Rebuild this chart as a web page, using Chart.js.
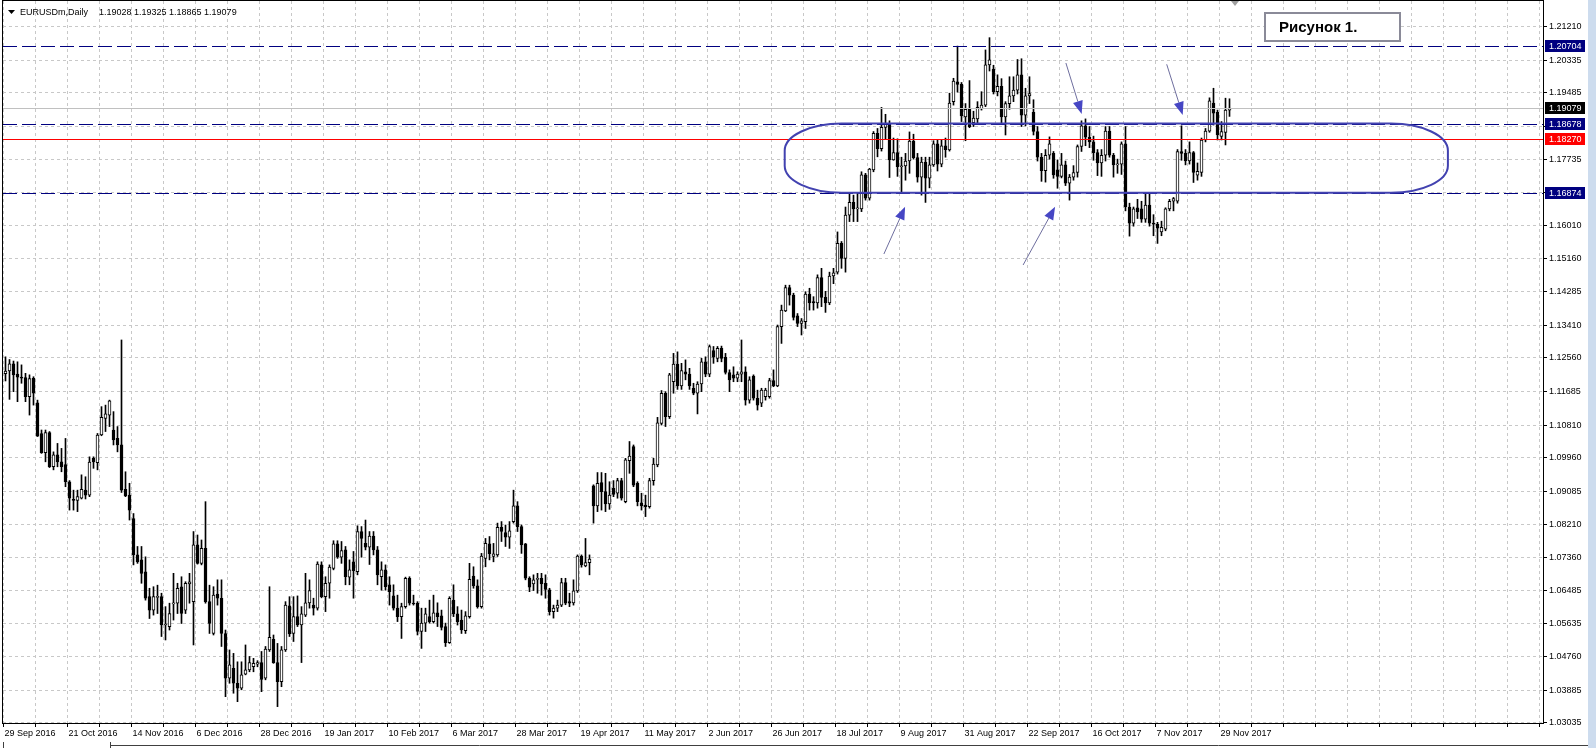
<!DOCTYPE html>
<html>
<head>
<meta charset="utf-8">
<title>EURUSDm, Daily</title>
<script src="https://cdn.jsdelivr.net/npm/chart.js@4.4.1/dist/chart.umd.min.js"></script>
<style>
  html, body { margin: 0; padding: 0; background: #ffffff; }
  canvas { display: block; }
</style>
</head>
<body>
<canvas id="chart" width="1596" height="748"></canvas>
<script>
// EURUSDm daily candles, one entry per trading day from 29 Sep 2016 to 1 Dec 2017
const dateLabels = ['29 Sep 2016', '21 Oct 2016', '14 Nov 2016', '6 Dec 2016', '28 Dec 2016',
  '19 Jan 2017', '10 Feb 2017', '6 Mar 2017', '28 Mar 2017', '19 Apr 2017', '11 May 2017',
  '2 Jun 2017', '26 Jun 2017', '18 Jul 2017', '9 Aug 2017', '31 Aug 2017', '22 Sep 2017',
  '16 Oct 2017', '7 Nov 2017', '29 Nov 2017'];

const priceTicks = [1.21210, 1.20335, 1.19485, 1.18610, 1.17735, 1.16885, 1.16010, 1.15160,
  1.14285, 1.13410, 1.12560, 1.11685, 1.10810, 1.09960, 1.09085, 1.08210, 1.07360, 1.06485,
  1.05635, 1.04760, 1.03885, 1.03035];

const opens = [
  1.1215,1.1222,1.1241,1.1214,1.1206,1.1205,1.1155,1.1203,1.1139,1.1059,
  1.1009,1.1061,1.0972,1.1003,1.0985,1.0978,1.0933,1.0887,1.0884,1.0890,
  1.0911,1.0898,1.0994,1.0983,1.1055,1.1098,1.1107,1.1068,1.1046,1.1029,
  1.0913,1.0898,1.0837,1.0742,1.0729,1.0698,1.0633,1.0598,1.0631,1.0633,
  1.0559,1.0555,1.0614,1.0616,1.0659,1.0598,1.0666,1.0620,1.0768,1.0720,
  1.0759,1.0620,1.0537,1.0640,1.0629,1.0537,1.0420,1.0446,1.0407,1.0394,
  1.0431,1.0442,1.0450,1.0457,1.0461,1.0420,1.0494,1.0522,1.0461,1.0411,
  1.0494,1.0609,1.0537,1.0581,1.0559,1.0585,1.0617,1.0611,1.0603,1.0716,
  1.0633,1.0668,1.0707,1.0771,1.0736,1.0755,1.0684,1.0724,1.0698,1.0803,
  1.0772,1.0762,1.0791,1.0755,1.0685,1.0703,1.0664,1.0635,1.0603,1.0581,
  1.0607,1.0681,1.0616,1.0616,1.0542,1.0564,1.0581,1.0568,1.0591,1.0583,
  1.0555,1.0513,1.0624,1.0588,1.0572,1.0544,1.0581,1.0687,1.0661,1.0607,
  1.0733,1.0771,1.0738,1.0742,1.0814,1.0800,1.0788,1.0829,1.0870,1.0816,
  1.0771,1.0681,1.0666,1.0678,1.0681,1.0668,1.0651,1.0594,1.0603,1.0611,
  1.0670,1.0620,1.0617,1.0648,1.0739,1.0713,1.0722,1.0922,1.0870,1.0931,
  1.0907,1.0875,1.0916,1.0903,1.0936,1.0881,1.0988,1.1025,1.0929,1.0878,
  1.0872,1.0868,1.0936,1.0977,1.1085,1.1164,1.1103,1.1194,1.1240,1.1183,
  1.1220,1.1214,1.1177,1.1164,1.1188,1.1246,1.1214,1.1275,1.1255,1.1281,
  1.1258,1.1218,1.1212,1.1203,1.1214,1.1220,1.1146,1.1209,1.1151,1.1138,
  1.1155,1.1155,1.1197,1.1183,1.1338,1.1379,1.1440,1.1420,1.1366,1.1346,
  1.1351,1.1423,1.1403,1.1400,1.1466,1.1414,1.1400,1.1470,1.1480,1.1555,
  1.1516,1.1629,1.1662,1.1645,1.1645,1.1734,1.1673,1.1747,1.1842,1.1802,
  1.1858,1.1868,1.1773,1.1792,1.1755,1.1757,1.1770,1.1822,1.1779,1.1728,
  1.1767,1.1725,1.1760,1.1815,1.1762,1.1810,1.1799,1.1925,1.1977,1.1970,
  1.1885,1.1905,1.1870,1.1880,1.1906,1.1916,1.2021,1.2010,1.1951,1.1965,
  1.1885,1.1920,1.1940,1.1955,1.1995,1.1890,1.1940,1.1897,1.1847,1.1780,
  1.1745,1.1785,1.1790,1.1747,1.1730,1.1760,1.1712,1.1728,1.1740,1.1808,
  1.1862,1.1832,1.1820,1.1792,1.1765,1.1785,1.1848,1.1785,1.1760,1.1762,
  1.1815,1.1650,1.1608,1.1648,1.1645,1.1618,1.1655,1.1608,1.1605,1.1585,
  1.1592,1.1645,1.1665,1.1665,1.1795,1.1790,1.1770,1.1792,1.1733,1.1740,
  1.1825,1.1848,1.1921,1.1897,1.1834,1.1845,1.19028
];

const highs = [
  1.1259,1.1252,1.1248,1.1246,1.1238,1.1216,1.1212,1.1207,1.1146,1.1068,
  1.1068,1.1064,1.1011,1.1033,1.1020,1.1046,1.0936,1.0911,1.0911,1.0951,
  1.0946,1.0998,1.0998,1.1059,1.1129,1.1133,1.1146,1.1116,1.1077,1.1303,
  1.0959,1.0929,1.0850,1.0764,1.0764,1.0737,1.0655,1.0659,1.0663,1.0642,
  1.0607,1.0616,1.0694,1.0668,1.0685,1.0672,1.0694,1.0803,1.0794,1.0781,
  1.0881,1.0663,1.0659,1.0677,1.0677,1.0546,1.0494,1.0485,1.0463,1.0463,
  1.0507,1.0477,1.0472,1.0466,1.0490,1.0503,1.0659,1.0533,1.0511,1.0503,
  1.0620,1.0633,1.0633,1.0635,1.0607,1.0694,1.0677,1.0629,1.0724,1.0724,
  1.0685,1.0716,1.0779,1.0779,1.0777,1.0764,1.0729,1.0751,1.0818,1.0816,
  1.0833,1.0803,1.0803,1.0764,1.0724,1.0716,1.0685,1.0664,1.0637,1.0616,
  1.0684,1.0685,1.0637,1.0620,1.0603,1.0603,1.0624,1.0637,1.0617,1.0598,
  1.0564,1.0633,1.0664,1.0607,1.0598,1.0594,1.0720,1.0711,1.0677,1.0746,
  1.0785,1.0790,1.0772,1.0825,1.0829,1.0820,1.0829,1.0911,1.0881,1.0820,
  1.0772,1.0685,1.0690,1.0694,1.0694,1.0690,1.0655,1.0611,1.0624,1.0681,
  1.0681,1.0642,1.0677,1.0742,1.0742,1.0785,1.0742,1.0925,1.0957,1.0957,
  1.0955,1.0933,1.0936,1.0942,1.0942,1.0994,1.1038,1.1029,1.0933,1.0903,
  1.0898,1.0942,1.0994,1.1101,1.1171,1.1168,1.1216,1.1268,1.1272,1.1242,
  1.1251,1.1229,1.1190,1.1194,1.1255,1.1259,1.1290,1.1286,1.1286,1.1287,
  1.1268,1.1225,1.1233,1.1220,1.1303,1.1233,1.1207,1.1212,1.1172,1.1177,
  1.1177,1.1203,1.1225,1.1342,1.1394,1.1446,1.1446,1.1425,1.1372,1.1359,
  1.1429,1.1438,1.1416,1.1473,1.1490,1.1430,1.1480,1.1490,1.1585,1.1560,
  1.1650,1.1686,1.1681,1.1686,1.1742,1.1738,1.1751,1.1847,1.1855,1.1910,
  1.1892,1.1875,1.1830,1.1828,1.1780,1.1790,1.1846,1.1840,1.1790,1.1780,
  1.1780,1.1780,1.1823,1.1824,1.1826,1.1830,1.1947,1.1986,1.2070,1.1975,
  1.1920,1.1980,1.1900,1.1925,1.1951,1.2060,1.2092,1.2020,1.1995,1.1985,
  1.1925,1.1990,1.1990,1.2035,1.2037,1.1960,1.1990,1.1930,1.1860,1.1790,
  1.1800,1.1833,1.1795,1.1773,1.1790,1.1770,1.1735,1.1758,1.1812,1.1875,
  1.1880,1.1860,1.1835,1.1800,1.1800,1.1860,1.1860,1.1790,1.1775,1.1820,
  1.1860,1.1660,1.1650,1.1670,1.1665,1.1686,1.1688,1.1630,1.1610,1.1613,
  1.1648,1.1670,1.1675,1.1800,1.1862,1.1800,1.1820,1.1795,1.1765,1.1830,
  1.1855,1.1935,1.1960,1.1903,1.1873,1.1934,1.19325
];

const lows = [
  1.1196,1.1148,1.1168,1.1142,1.1190,1.1142,1.1107,1.1133,1.1051,1.1007,
  1.0985,1.0970,1.0964,1.0972,1.0959,1.0920,1.0859,1.0859,1.0855,1.0888,
  1.0888,1.0894,1.0968,1.0964,1.1053,1.1064,1.1077,1.1029,1.1011,1.0905,
  1.0894,1.0833,1.0716,1.0720,1.0668,1.0624,1.0576,1.0585,1.0589,1.0529,
  1.0520,1.0546,1.0572,1.0589,1.0563,1.0589,1.0616,1.0507,1.0718,1.0716,
  1.0616,1.0537,1.0533,1.0611,1.0503,1.0372,1.0407,1.0381,1.0359,1.0390,
  1.0429,1.0437,1.0437,1.0450,1.0385,1.0416,1.0490,1.0459,1.0346,1.0398,
  1.0490,1.0529,1.0516,1.0555,1.0461,1.0581,1.0603,1.0585,1.0598,1.0630,
  1.0594,1.0629,1.0703,1.0733,1.0720,1.0664,1.0664,1.0629,1.0690,1.0736,
  1.0755,1.0717,1.0742,1.0664,1.0650,1.0650,1.0611,1.0598,1.0568,1.0524,
  1.0603,1.0611,1.0611,1.0533,1.0498,1.0542,1.0564,1.0564,1.0555,1.0546,
  1.0503,1.0511,1.0581,1.0559,1.0537,1.0537,1.0577,1.0655,1.0603,1.0603,
  1.0711,1.0729,1.0724,1.0738,1.0777,1.0764,1.0759,1.0825,1.0803,1.0746,
  1.0677,1.0646,1.0649,1.0642,1.0637,1.0629,1.0585,1.0577,1.0594,1.0607,
  1.0612,1.0607,1.0611,1.0644,1.0710,1.0711,1.0690,1.0825,1.0855,1.0859,
  1.0855,1.0861,1.0894,1.0890,1.0885,1.0878,1.0955,1.0920,1.0870,1.0859,
  1.0842,1.0864,1.0924,1.0972,1.1081,1.1077,1.1098,1.1164,1.1174,1.1174,
  1.1199,1.1174,1.1160,1.1110,1.1168,1.1207,1.1207,1.1242,1.1246,1.1246,
  1.1214,1.1168,1.1194,1.1194,1.1194,1.1133,1.1138,1.1146,1.1120,1.1129,
  1.1146,1.1151,1.1181,1.1181,1.1294,1.1377,1.1394,1.1355,1.1338,1.1316,
  1.1333,1.1381,1.1381,1.1386,1.1390,1.1375,1.1395,1.1450,1.1475,1.1490,
  1.1480,1.1612,1.1612,1.1612,1.1638,1.1668,1.1668,1.1742,1.1781,1.1796,
  1.1827,1.1727,1.1772,1.1730,1.1688,1.1720,1.1738,1.1775,1.1715,1.1681,
  1.1662,1.1700,1.1756,1.1744,1.1755,1.1780,1.1796,1.1916,1.1950,1.1873,
  1.1823,1.1857,1.1860,1.1865,1.1903,1.1912,1.2005,1.1945,1.1940,1.1870,
  1.1838,1.1905,1.1925,1.1945,1.1860,1.1862,1.1920,1.1838,1.1770,1.1717,
  1.1715,1.1775,1.1725,1.1699,1.1726,1.1706,1.1668,1.1720,1.1728,1.1795,
  1.1810,1.1805,1.1772,1.1732,1.1730,1.1770,1.1780,1.1728,1.1738,1.1735,
  1.1640,1.1574,1.1600,1.1620,1.1610,1.1610,1.1600,1.1575,1.1555,1.1575,
  1.1588,1.1640,1.1640,1.1660,1.1772,1.1760,1.1762,1.1714,1.1720,1.1730,
  1.1820,1.1845,1.1864,1.1825,1.1825,1.1812,1.18865
];

const closes = [
  1.1222,1.1241,1.1212,1.1206,1.1203,1.1155,1.1202,1.1164,1.1052,1.1009,
  1.1061,1.0972,1.1003,1.0985,1.0972,1.0933,1.0890,1.0884,1.0894,1.0913,
  1.0898,1.0984,1.0985,1.1055,1.1101,1.1110,1.1144,1.1042,1.1029,1.0911,
  1.0896,1.0859,1.0742,1.0724,1.0694,1.0629,1.0598,1.0633,1.0633,1.0559,
  1.0561,1.0589,1.0617,1.0655,1.0589,1.0668,1.0672,1.0768,1.0720,1.0759,
  1.0620,1.0563,1.0637,1.0629,1.0537,1.0420,1.0455,1.0407,1.0394,1.0429,
  1.0442,1.0461,1.0459,1.0461,1.0417,1.0496,1.0527,1.0461,1.0411,1.0494,
  1.0611,1.0536,1.0581,1.0559,1.0588,1.0617,1.0649,1.0603,1.0718,1.0633,
  1.0668,1.0710,1.0771,1.0736,1.0753,1.0685,1.0703,1.0701,1.0803,1.0785,
  1.0762,1.0791,1.0755,1.0690,1.0703,1.0659,1.0646,1.0603,1.0581,1.0607,
  1.0681,1.0616,1.0614,1.0542,1.0564,1.0588,1.0568,1.0591,1.0581,1.0553,
  1.0513,1.0629,1.0588,1.0568,1.0546,1.0583,1.0678,1.0661,1.0607,1.0739,
  1.0772,1.0745,1.0745,1.0814,1.0803,1.0788,1.0805,1.0870,1.0816,1.0768,
  1.0681,1.0658,1.0677,1.0681,1.0666,1.0652,1.0594,1.0603,1.0611,1.0670,
  1.0616,1.0616,1.0648,1.0739,1.0716,1.0722,1.0731,1.0870,1.0929,1.0907,
  1.0875,1.0898,1.0900,1.0936,1.0890,1.0990,1.1000,1.0924,1.0881,1.0870,
  1.0868,1.0936,1.0979,1.1087,1.1164,1.1103,1.1212,1.1240,1.1183,1.1223,
  1.1214,1.1183,1.1164,1.1188,1.1246,1.1214,1.1286,1.1258,1.1281,1.1255,
  1.1218,1.1199,1.1203,1.1214,1.1220,1.1146,1.1199,1.1151,1.1133,1.1172,
  1.1172,1.1197,1.1183,1.1338,1.1381,1.1440,1.1420,1.1362,1.1346,1.1353,
  1.1423,1.1400,1.1400,1.1466,1.1414,1.1400,1.1470,1.1478,1.1555,1.1516,
  1.1629,1.1662,1.1645,1.1648,1.1734,1.1673,1.1749,1.1842,1.1802,1.1858,
  1.1868,1.1773,1.1792,1.1755,1.1757,1.1770,1.1822,1.1779,1.1728,1.1767,
  1.1725,1.1760,1.1815,1.1762,1.1810,1.1800,1.1921,1.1979,1.1970,1.1888,
  1.1905,1.1860,1.1882,1.1910,1.1916,1.2021,1.2034,1.1951,1.1965,1.1885,
  1.1920,1.1940,1.1955,1.1995,1.1890,1.1940,1.1946,1.1847,1.1780,1.1745,
  1.1785,1.1815,1.1734,1.1730,1.1760,1.1712,1.1728,1.1740,1.1808,1.1862,
  1.1832,1.1820,1.1792,1.1765,1.1785,1.1848,1.1785,1.1760,1.1762,1.1815,
  1.1650,1.1608,1.1645,1.1637,1.1618,1.1655,1.1608,1.1605,1.1595,1.1597,
  1.1645,1.1665,1.1672,1.1795,1.1790,1.1770,1.1792,1.1740,1.1743,1.1825,
  1.1848,1.1927,1.1895,1.1838,1.1847,1.1903,1.19079
];

// horizontal objects on the chart
const dashedLevels = [1.20704, 1.18678, 1.16874];
const bidPrice = 1.19079;
const redLevel = 1.18270;

// the rounded zone drawn between the two blue levels (bar index range / price range)
const zoneBars = [194.8, 360.6];
const zonePrices = [1.18678, 1.16874];

// arrows: [tail bar, tail price, tip bar, tip price]
const arrows = [
  [219.6, 1.15274, 224.9, 1.16509],
  [254.4, 1.14987, 262.4, 1.16509],
  [265.1, 1.20259, 269.05, 1.18928],
  [290.3, 1.20225, 294.3, 1.18902]
];

const symbolTitle = 'EURUSDm,Daily';
const noteText = 'Рисунок 1.';

const barIndex = opens.map((o, i) => i);
const axisFont = { family: 'Liberation Sans', size: 9 };
const gridColor = '#c8c8c8';

const overlay = {
  id: 'mt4Overlay',
  afterDatasetsDraw(chart) {
    const { ctx, chartArea: a, scales: { x, y } } = chart;
    const py = v => Math.round(y.getPixelForValue(v)) + 0.5;
    const hline = v => {
      ctx.beginPath();
      ctx.moveTo(a.left, py(v));
      ctx.lineTo(a.right, py(v));
      ctx.stroke();
    };
    ctx.save();
    ctx.beginPath();
    ctx.rect(a.left, a.top, a.right - a.left, a.bottom - a.top);
    ctx.clip();

    ctx.lineWidth = 1;
    ctx.strokeStyle = '#c0c0c0';
    hline(bidPrice);
    ctx.strokeStyle = '#ff0000';
    hline(redLevel);
    ctx.strokeStyle = '#000080';
    ctx.setLineDash([14, 5]);
    dashedLevels.forEach(hline);
    ctx.setLineDash([]);

    // zone outline: straight edges on the two levels, rounded ends
    const xl = x.getPixelForValue(zoneBars[0]);
    const xr = x.getPixelForValue(zoneBars[1]);
    const yt = y.getPixelForValue(zonePrices[0]);
    const yb = y.getPixelForValue(zonePrices[1]);
    const rx = 57, ry = Math.min(27, (yb - yt) / 2);
    ctx.strokeStyle = '#4242b0';
    ctx.lineWidth = 2;
    ctx.beginPath();
    ctx.moveTo(xl + rx, yt);
    ctx.lineTo(xr - rx, yt);
    ctx.ellipse(xr - rx, yt + ry, rx, ry, 0, -Math.PI / 2, 0);
    ctx.lineTo(xr, yb - ry);
    ctx.ellipse(xr - rx, yb - ry, rx, ry, 0, 0, Math.PI / 2);
    ctx.lineTo(xl + rx, yb);
    ctx.ellipse(xl + rx, yb - ry, rx, ry, 0, Math.PI / 2, Math.PI);
    ctx.lineTo(xl, yt + ry);
    ctx.ellipse(xl + rx, yt + ry, rx, ry, 0, Math.PI, Math.PI * 1.5);
    ctx.closePath();
    ctx.stroke();

    // arrows
    arrows.forEach(([b0, p0, b1, p1]) => {
      const x0 = x.getPixelForValue(b0), y0 = y.getPixelForValue(p0);
      const x1 = x.getPixelForValue(b1), y1 = y.getPixelForValue(p1);
      const ang = Math.atan2(y1 - y0, x1 - x0);
      const len = 13, half = 5;
      const bx = x1 - len * Math.cos(ang), by = y1 - len * Math.sin(ang);
      ctx.strokeStyle = '#6e6e9e';
      ctx.lineWidth = 1;
      ctx.beginPath();
      ctx.moveTo(x0, y0);
      ctx.lineTo(bx, by);
      ctx.stroke();
      ctx.fillStyle = '#4646c4';
      ctx.beginPath();
      ctx.moveTo(x1, y1);
      ctx.lineTo(bx + half * Math.sin(ang), by - half * Math.cos(ang));
      ctx.lineTo(bx - half * Math.sin(ang), by + half * Math.cos(ang));
      ctx.closePath();
      ctx.fill();
    });
    ctx.restore();
  },
  afterDraw(chart) {
    const { ctx, chartArea: a, scales: { y } } = chart;
    ctx.save();
    // frame
    ctx.strokeStyle = '#000000';
    ctx.lineWidth = 1;
    ctx.strokeRect(a.left - 0.5, a.top - 0.5, a.right - a.left + 1, a.bottom - a.top + 1);

    // window edge on the right and the tab strip at the bottom
    ctx.fillStyle = '#cddcee';
    ctx.fillRect(1588, 0, 8, 748);
    ctx.strokeStyle = '#404040';
    ctx.beginPath();
    ctx.moveTo(110, 745.5);
    ctx.lineTo(1588, 745.5);
    ctx.moveTo(3.5, 742);
    ctx.lineTo(3.5, 748);
    ctx.moveTo(110.5, 742);
    ctx.lineTo(110.5, 748);
    ctx.stroke();

    // price tags on the right scale
    ctx.font = '9px "Liberation Sans"';
    ctx.textBaseline = 'middle';
    ctx.textAlign = 'left';
    const tag = (v, bg) => {
      const yy = Math.round(y.getPixelForValue(v));
      ctx.fillStyle = bg;
      ctx.fillRect(a.right + 2, yy - 6, 40, 12);
      ctx.fillStyle = '#ffffff';
      ctx.fillText(v.toFixed(5), a.right + 6, yy + 0.5);
    };
    dashedLevels.forEach(v => tag(v, '#000080'));
    tag(bidPrice, '#000000');
    tag(redLevel, '#ff0000');

    // symbol line
    ctx.fillStyle = '#000000';
    ctx.beginPath();
    ctx.moveTo(8, 10);
    ctx.lineTo(15, 10);
    ctx.lineTo(11.5, 14);
    ctx.closePath();
    ctx.fill();
    ctx.fillText(symbolTitle, 20, 13);
    const last = opens.length - 1;
    ctx.fillText([opens[last], highs[last], lows[last], closes[last]].map(v => v.toFixed(5)).join(' '), 99, 13);

    // shift marker
    ctx.fillStyle = '#a0a0a0';
    ctx.beginPath();
    ctx.moveTo(1231, 1);
    ctx.lineTo(1239, 1);
    ctx.lineTo(1235, 6);
    ctx.closePath();
    ctx.fill();

    // note box
    ctx.fillStyle = '#ffffff';
    ctx.fillRect(1264, 12, 137, 30);
    ctx.strokeStyle = '#8a8a98';
    ctx.lineWidth = 2;
    ctx.strokeRect(1265, 13, 135, 28);
    ctx.fillStyle = '#000000';
    ctx.font = 'bold 15px "Liberation Sans"';
    ctx.fillText(noteText, 1279, 28);
    ctx.restore();
  }
};

const ctx = document.getElementById('chart').getContext('2d');

new Chart(ctx, {
  type: 'bar',
  data: {
    datasets: [
      {
        label: 'body',
        data: barIndex.map(i => ({ x: i, y: [opens[i], closes[i]] })),
        backgroundColor: barIndex.map(i => closes[i] >= opens[i] ? '#ffffff' : '#000000'),
        borderColor: '#000000',
        borderWidth: 1,
        borderSkipped: false,
        barThickness: 3,
        minBarLength: 1,
        grouped: false,
        order: 0
      },
      {
        label: 'wick',
        data: barIndex.map(i => ({ x: i, y: [lows[i], highs[i]] })),
        backgroundColor: '#000000',
        borderWidth: 0,
        barThickness: 1,
        grouped: false,
        order: 1
      }
    ]
  },
  options: {
    responsive: false,
    devicePixelRatio: 1,
    animation: false,
    events: [],
    layout: { padding: { top: 1, left: 3, right: 0, bottom: 0 } },
    plugins: {
      legend: { display: false },
      tooltip: { enabled: false }
    },
    scales: {
      x: {
        type: 'linear',
        min: -0.625,
        max: 384.375,
        offset: false,
        bounds: 'data',
        afterBuildTicks: s => {
          const t = [];
          for (let k = 0; k * 8 - 0.5 <= s.max; k++) t.push({ value: k * 8 - 0.5 });
          s.ticks = t;
        },
        ticks: {
          autoSkip: false,
          maxRotation: 0,
          align: 'start',
          labelOffset: 1,
          padding: 1,
          color: '#000000',
          font: axisFont,
          callback: (v, idx) => (idx % 2 === 0 ? (dateLabels[idx / 2] || '') : '')
        },
        grid: { color: gridColor, offset: false, drawTicks: true, tickLength: 4, tickColor: '#000000' },
        border: { display: false, dash: [3, 3] },
        afterFit: s => { s.height = 25; s.paddingLeft = 0; s.paddingRight = 0; }
      },
      y: {
        type: 'linear',
        position: 'right',
        min: 1.03033,
        max: 1.21877,
        bounds: 'data',
        afterBuildTicks: s => { s.ticks = priceTicks.map(v => ({ value: v })); },
        ticks: {
          autoSkip: false,
          padding: 2,
          color: '#000000',
          font: axisFont,
          callback: v => v.toFixed(5)
        },
        grid: { color: gridColor, drawTicks: true, tickLength: 4, tickColor: '#000000' },
        border: { display: false, dash: [3, 3] },
        afterFit: s => { s.width = 53; s.paddingTop = 0; s.paddingBottom = 0; }
      }
    }
  },
  plugins: [overlay]
});
</script>
</body>
</html>
